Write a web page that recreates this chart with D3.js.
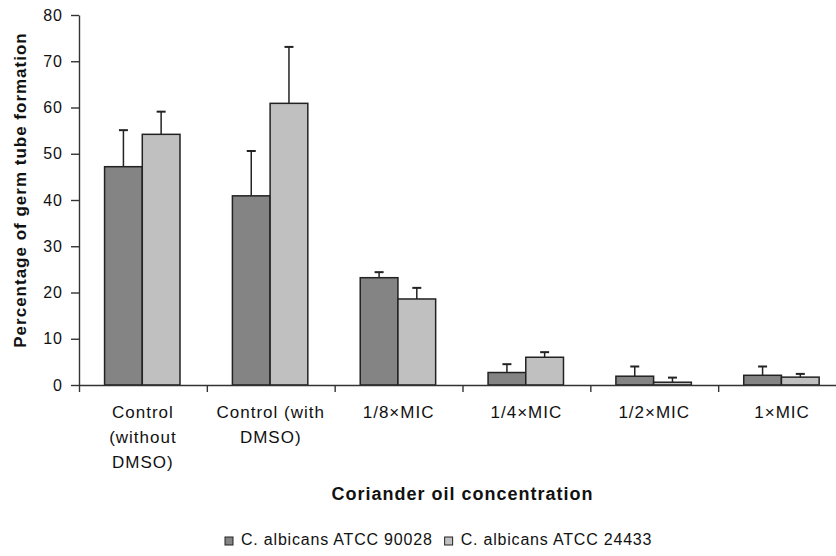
<!DOCTYPE html>
<html>
<head>
<meta charset="utf-8">
<script src="https://cdn.jsdelivr.net/npm/d3@7"></script>
<style>
  body { margin: 0; background: #fff; }
  svg text { font-family: "Liberation Sans", Arial, sans-serif; fill: #111; }
</style>
</head>
<body>
<div id="chart"></div>
<script>
// chart values
const categories = [
  ["Control", "(without", "DMSO)"],
  ["Control (with", "DMSO)"],
  ["1/8\u00d7MIC"],
  ["1/4\u00d7MIC"],
  ["1/2\u00d7MIC"],
  ["1\u00d7MIC"]
];
const seriesNames = ["C. albicans ATCC 90028", "C. albicans ATCC 24433"];
const strain90028 = [47.2, 40.9, 23.2, 2.7, 1.9, 2.1];
const err90028 = [7.9, 9.7, 1.2, 1.8, 2.1, 1.9];
const strain24433 = [54.2, 60.9, 18.6, 6.0, 0.6, 1.7];
const err24433 = [4.9, 12.2, 2.4, 1.1, 1.0, 0.7];
const yTicks = [0, 10, 20, 30, 40, 50, 60, 70, 80];

const width = 836, height = 556;
const margin = { left: 79, right: -10, top: 15, bottom: 171 };
const fills = ["#848484", "#c0c0c0"];

const svg = d3.select("#chart").append("svg")
  .attr("width", width).attr("height", height);

const keys = categories.map(function (c, i) { return "c" + i; });
const x = d3.scaleBand().domain(keys)
  .range([margin.left, width - margin.right]).padding(0);
const xs = d3.scaleBand().domain(seriesNames)
  .range([x.bandwidth() * 0.2, x.bandwidth() * 0.79]);
const y = d3.scaleLinear().domain([0, 80]).range([height - margin.bottom, margin.top]);

const rows = categories.map(function (c, i) {
  return {
    key: keys[i], label: c,
    vals: [
      { s: seriesNames[0], v: strain90028[i], e: err90028[i] },
      { s: seriesNames[1], v: strain24433[i], e: err24433[i] }
    ]
  };
});

// y axis
const yAxis = svg.append("g")
  .attr("transform", "translate(" + margin.left + ",0)")
  .call(d3.axisLeft(y).tickValues(yTicks).tickSize(8).tickSizeOuter(0).tickPadding(8));
yAxis.selectAll("path, line").attr("stroke", "#333").attr("stroke-width", 1.4);
yAxis.selectAll("text").attr("font-size", 16).attr("letter-spacing", "1px")
  .attr("fill", "#111").style("font-family", "'Liberation Sans', Arial, sans-serif");

// bars
const g = svg.append("g").selectAll("g").data(rows).enter().append("g")
  .attr("transform", function (d) { return "translate(" + x(d.key) + ",0)"; });

g.selectAll("line.err").data(function (d) { return d.vals; }).enter().append("line")
  .attr("class", "err")
  .attr("x1", function (d) { return xs(d.s) + xs.bandwidth() / 2; })
  .attr("x2", function (d) { return xs(d.s) + xs.bandwidth() / 2; })
  .attr("y1", function (d) { return y(d.v); })
  .attr("y2", function (d) { return y(d.v + d.e); })
  .attr("stroke", "#222").attr("stroke-width", 1.5);

g.selectAll("line.cap").data(function (d) { return d.vals; }).enter().append("line")
  .attr("class", "cap")
  .attr("x1", function (d) { return xs(d.s) + xs.bandwidth() / 2 - 4.5; })
  .attr("x2", function (d) { return xs(d.s) + xs.bandwidth() / 2 + 4.5; })
  .attr("y1", function (d) { return y(d.v + d.e); })
  .attr("y2", function (d) { return y(d.v + d.e); })
  .attr("stroke", "#222").attr("stroke-width", 2);

g.selectAll("rect").data(function (d) { return d.vals; }).enter().append("rect")
  .attr("x", function (d) { return xs(d.s); })
  .attr("y", function (d) { return y(d.v); })
  .attr("width", xs.bandwidth())
  .attr("height", function (d) { return y(0) - y(d.v); })
  .attr("fill", function (d, i) { return fills[i]; })
  .attr("stroke", "#222").attr("stroke-width", 1.5);

// x axis with ticks between categories
const xb = d3.scaleLinear().domain([0, categories.length])
  .range([margin.left, width - margin.right]);
const xAxis = svg.append("g")
  .attr("transform", "translate(0," + y(0) + ")")
  .call(d3.axisBottom(xb).ticks(categories.length).tickSize(7).tickSizeOuter(0).tickFormat(""));
xAxis.selectAll("path, line").attr("stroke", "#333").attr("stroke-width", 1.4);

const labels = svg.append("g").selectAll("text").data(rows).enter().append("text")
  .attr("x", function (d) { return x(d.key) + x.bandwidth() / 2; })
  .attr("y", y(0) + 33)
  .attr("text-anchor", "middle")
  .attr("font-size", 17).attr("letter-spacing", "1px");
labels.selectAll("tspan").data(function (d) { return d.label; }).enter().append("tspan")
  .attr("x", function () { const p = d3.select(this.parentNode).datum(); return x(p.key) + x.bandwidth() / 2; })
  .attr("dy", function (d, i) { return i === 0 ? 0 : 25; })
  .text(function (d) { return d; });

// axis titles
svg.append("text")
  .attr("x", (margin.left + width - margin.right) / 2)
  .attr("y", 500)
  .attr("text-anchor", "middle")
  .attr("font-size", 18).attr("font-weight", "bold").attr("letter-spacing", "1px")
  .text("Coriander oil concentration");

svg.append("text")
  .attr("transform", "translate(26,190) rotate(-90)")
  .attr("text-anchor", "middle")
  .attr("font-size", 17).attr("font-weight", "bold").attr("letter-spacing", "1px")
  .text("Percentage of germ tube formation");

// legend
const legend = svg.append("g");
const items = legend.selectAll("g").data(seriesNames).enter().append("g");
items.append("rect")
  .attr("width", 8).attr("height", 8)
  .attr("fill", function (d, i) { return fills[i]; })
  .attr("stroke", "#222").attr("stroke-width", 1);
items.append("text")
  .attr("x", 16).attr("y", 8)
  .attr("font-size", 16).attr("letter-spacing", "0.8px")
  .text(function (d) { return d; });
let lx = 225;
items.each(function () {
  d3.select(this).attr("transform", "translate(" + lx + ",537)");
  lx += this.getBBox().width + 12;
});
</script>
</body>
</html>
